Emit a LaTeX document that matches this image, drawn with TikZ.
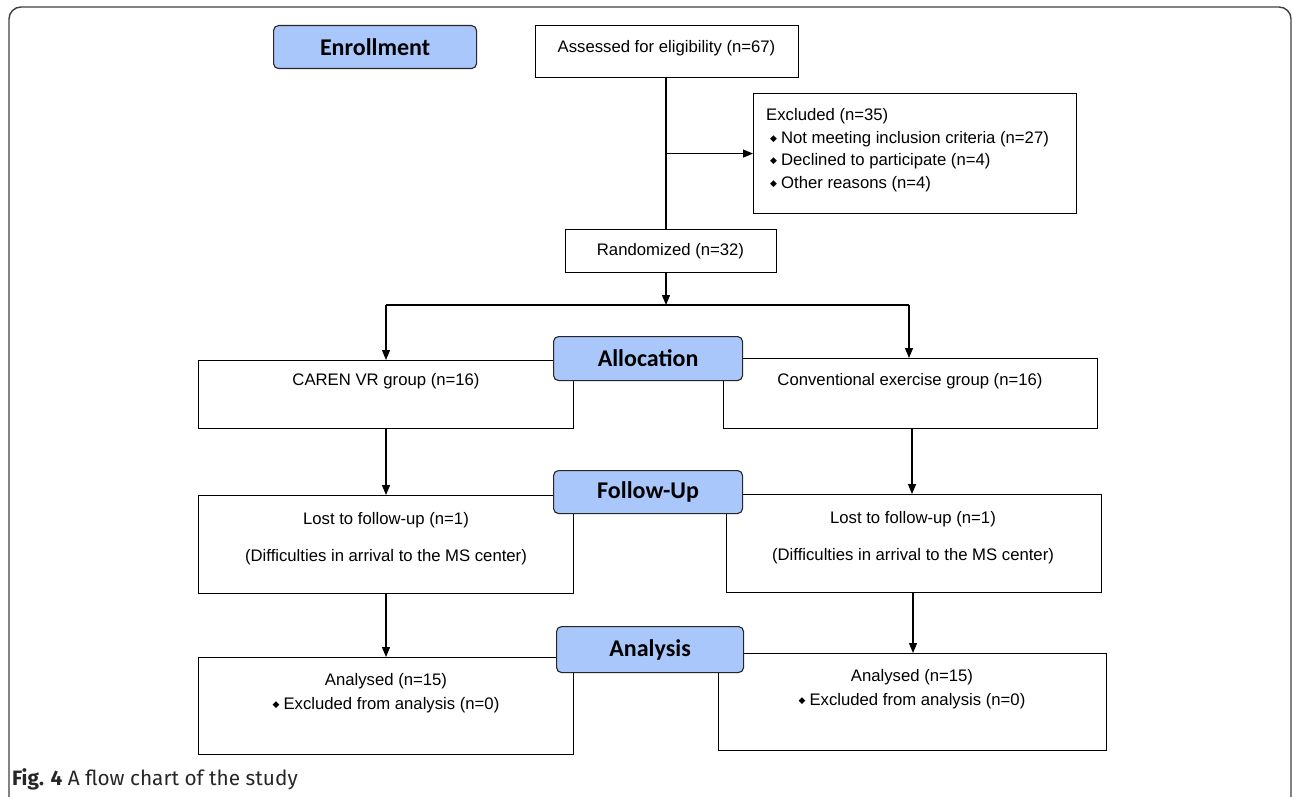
\documentclass[tikz,border=0pt]{standalone}
\usepackage{fontspec}
\setmainfont{Liberation Sans}
\newfontfamily\stagefont{Carlito}
\newfontfamily\capfont{Fira Sans}
\newfontfamily\dejavu{DejaVu Sans}
\usetikzlibrary{arrows.meta}
\newcommand{\bul}{\raisebox{2pt}{\dejavu\fontsize{9}{9}\selectfont ◆}\hspace{4pt}}
\tikzset{
  box/.style={draw=black, line width=1.1pt, fill=white, inner sep=0pt, anchor=north west},
  stage/.style={draw=black!85, line width=1.1pt, fill=stageblue, rounded corners=5pt, inner sep=0pt, anchor=north west,
     font=\stagefont\bfseries\fontsize{24}{24}\selectfont},
  txt/.style={inner sep=0pt, font=\fontsize{16.7}{18}\selectfont},
  line/.style={draw=black, line width=1.2pt},
  arr/.style={line, -{Triangle[length=10pt,width=8pt]}},
}
\definecolor{stageblue}{HTML}{A9C7FB}
\begin{document}
\begin{tikzpicture}[x=1pt,y=-1pt]
\useasboundingbox (0,0) rectangle (1292,797);
% outer frame
\draw[draw=black!75, line width=1.4pt, rounded corners=12pt] (9,830) -- (9,7) -- (1291,7) -- (1291,830);

% boxes
\node[box, minimum width=263pt, minimum height=52pt] (assess) at (535,25) {};
\node[txt] (assesst) at (666.5,48) {Assessed for eligibility (n=67)};
\node[box, minimum width=323pt, minimum height=120pt] (excl) at (753,93) {};
\node[txt, anchor=west, align=left] (exclt) at (766,150) {Excluded (n=35)\\[4.5pt]
  \hspace{4pt}\bul Not meeting inclusion criteria (n=27)\\[4.5pt]
  \hspace{4pt}\bul Declined to participate (n=4)\\[4.5pt]
  \hspace{4pt}\bul Other reasons (n=4)};
\node[box, minimum width=211pt, minimum height=43pt] (rand) at (565,229) {};
\node[txt] (randt) at (670.5,251) {Randomized (n=32)};

\node[box, minimum width=375pt, minimum height=68pt] (caren) at (198,360) {};
\node[txt] (carent) at (386,381) {CAREN VR group (n=16)};
\node[box, minimum width=374pt, minimum height=70pt] (conv) at (723,358) {};
\node[txt] (convt) at (910,381) {Conventional exercise group (n=16)};

\node[box, minimum width=375pt, minimum height=98pt] (lostl) at (198,495) {};
\node[txt] (lostlt1) at (386,520) {Lost to follow-up (n=1)};
\node[txt] (lostlt2) at (386,557) {(Difficulties in arrival to the MS center)};
\node[box, minimum width=375pt, minimum height=98pt] (lostr) at (726,494) {};
\node[txt] (lostrt1) at (913,519) {Lost to follow-up (n=1)};
\node[txt] (lostrt2) at (913,556) {(Difficulties in arrival to the MS center)};

\node[box, minimum width=375pt, minimum height=97pt] (anl) at (198,657) {};
\node[txt, align=center] (anlt) at (386,693) {Analysed (n=15)\\[6pt]\bul Excluded from analysis (n=0)};
\node[box, minimum width=388pt, minimum height=97pt] (anr) at (718,653) {};
\node[txt, align=center] (anrt) at (912,689) {Analysed (n=15)\\[6pt]\bul Excluded from analysis (n=0)};

% stage labels
\node[stage, minimum width=203pt, minimum height=43pt] (enr) at (273,25) {Enrollment};
\node[stage, minimum width=189pt, minimum height=44pt] (alloc) at (553,336) {Allocation};
\node[stage, minimum width=189pt, minimum height=43pt] (fol) at (553,470) {Follow-Up};
\node[stage, minimum width=187pt, minimum height=46pt] (ana) at (556,626) {Analysis};

% connectors
\coordinate (top) at (666,77);
\coordinate (split) at (666,305);
\coordinate (lsplit) at (386,305);
\coordinate (rsplit) at (909,305);
\draw[line] (top) -- (top |- rand.north);
\draw[arr] (top |- excl.west) -- (excl.west);
\draw[arr] (top |- rand.south) -- (split);
\draw[line] (lsplit) -- (rsplit);
\draw[arr] (lsplit) -- (lsplit |- caren.north);
\draw[arr] (rsplit) -- (rsplit |- conv.north);
\coordinate (c1) at (386,428);
\coordinate (c2) at (912,428);
\draw[arr] (c1) -- (c1 |- lostl.north);
\draw[arr] (c2) -- (c2 |- lostr.north);
\coordinate (c3) at (386,593);
\coordinate (c4) at (913,592);
\draw[arr] (c3) -- (c3 |- anl.north);
\draw[arr] (c4) -- (c4 |- anr.north);

% caption
\node[anchor=west, inner sep=0pt, font=\capfont\fontsize{20.8}{22}\selectfont, text=black!85] (cap) at (12,779)
  {\textbf{Fig. 4} A flow chart of the study};
\end{tikzpicture}
\end{document}
